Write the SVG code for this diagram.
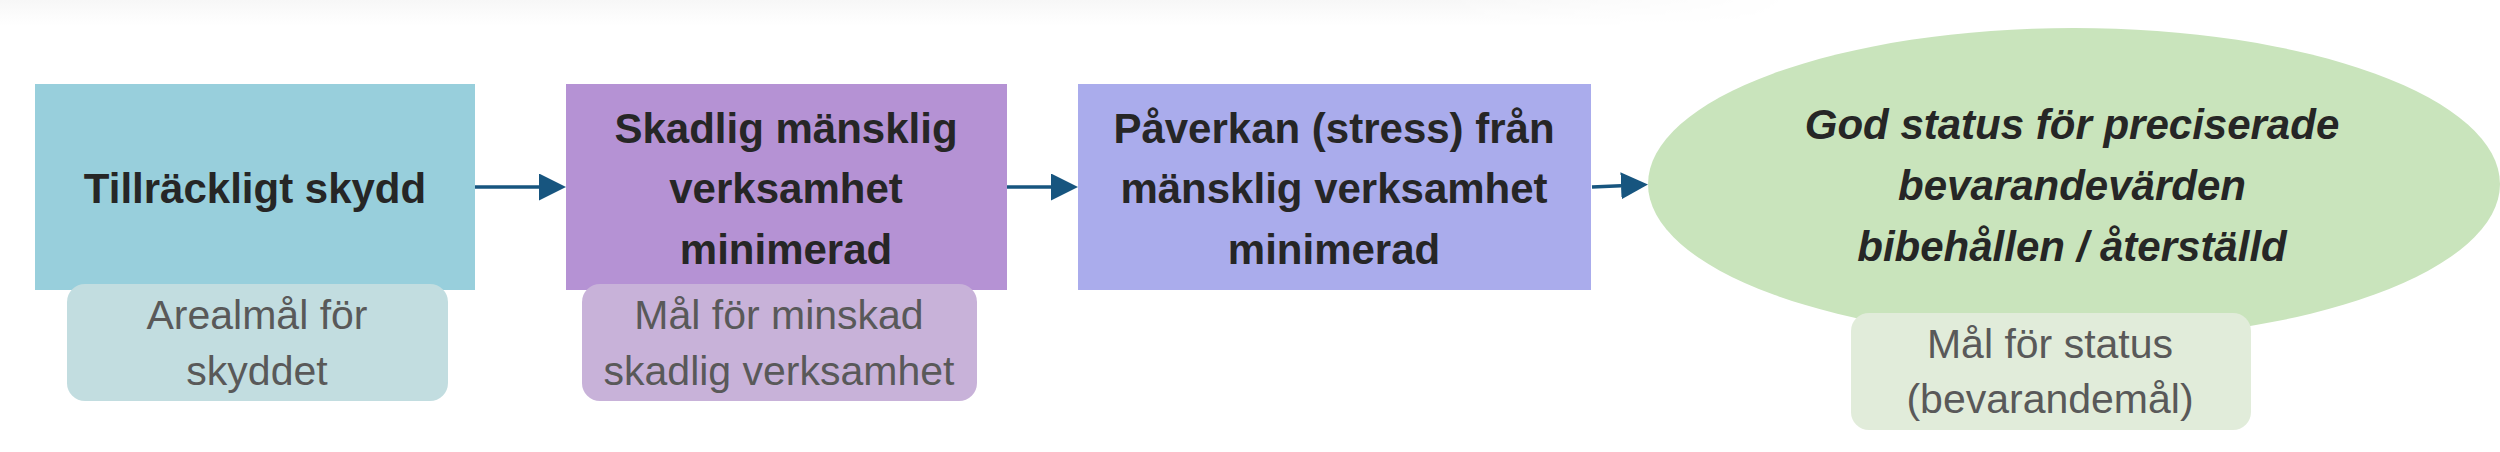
<svg xmlns="http://www.w3.org/2000/svg" width="2500" height="452" viewBox="0 0 2500 452">
  <defs>
    <linearGradient id="topShade" x1="0" y1="0" x2="0" y2="1">
      <stop offset="0" stop-color="#f7f7f7"/>
      <stop offset="1" stop-color="#ffffff"/>
    </linearGradient>
    <linearGradient id="fadeX" x1="0" y1="0" x2="1" y2="0">
      <stop offset="0" stop-color="#ffffff"/>
      <stop offset="0.8" stop-color="#ffffff"/>
      <stop offset="1" stop-color="#000000"/>
    </linearGradient>
    <mask id="bandMask" maskUnits="userSpaceOnUse" x="0" y="0" width="1800" height="30">
      <rect x="0" y="0" width="1800" height="30" fill="url(#fadeX)"/>
    </mask>
    <marker id="arrowHead" markerUnits="userSpaceOnUse" markerWidth="28" markerHeight="28" refX="0" refY="13.5" orient="auto">
      <path d="M0,0 L27,13.5 L0,27 Z" fill="#17557F"/>
    </marker>
    <style>
      .main { font-family: "Liberation Sans", Arial, sans-serif; font-weight: bold; font-size: 42px; fill: #262626; text-anchor: middle; }
      .ital { font-style: italic; }
      .lab { font-family: "Liberation Sans", Arial, sans-serif; font-size: 41px; fill: #595959; text-anchor: middle; }
      .conn { stroke: #17557F; stroke-width: 3.5; fill: none; marker-end: url(#arrowHead); }
    </style>
  </defs>
  <rect x="0" y="0" width="2500" height="452" fill="#ffffff"/>
  <rect x="0" y="0" width="1800" height="26" fill="url(#topShade)" mask="url(#bandMask)"/>

  <g id="node-skydd">
    <rect x="35" y="84" width="440" height="206" fill="#98CFDC"/>
    <text class="main" x="255" y="203">Tillräckligt skydd</text>
  </g>

  <g id="node-skadlig">
    <rect x="566" y="84" width="441" height="206" fill="#B592D4"/>
    <text class="main" x="786" y="143">Skadlig mänsklig</text>
    <text class="main" x="786" y="203">verksamhet</text>
    <text class="main" x="786" y="264">minimerad</text>
  </g>

  <g id="node-paverkan">
    <rect x="1078" y="84" width="513" height="206" fill="#AAACEC"/>
    <text class="main" x="1334" y="143">Påverkan (stress) från</text>
    <text class="main" x="1334" y="203">mänsklig verksamhet</text>
    <text class="main" x="1334" y="264">minimerad</text>
  </g>

  <g id="node-status">
    <ellipse cx="2074" cy="184" rx="426" ry="156" fill="#C9E4BC"/>
    <text class="main ital" x="2072" y="139">God status för preciserade</text>
    <text class="main ital" x="2072" y="200">bevarandevärden</text>
    <text class="main ital" x="2072" y="261">bibehållen / återställd</text>
  </g>

  <g id="label-areal">
    <rect x="67" y="284" width="381" height="117" rx="18" ry="18" fill="#C2DDE0"/>
    <text class="lab" x="257" y="329">Arealmål för</text>
    <text class="lab" x="257" y="385">skyddet</text>
  </g>

  <g id="label-minskad">
    <rect x="582" y="284" width="395" height="117" rx="18" ry="18" fill="#C8B2D9"/>
    <text class="lab" x="779" y="329">Mål för minskad</text>
    <text class="lab" x="779" y="385">skadlig verksamhet</text>
  </g>

  <g id="label-statusmal">
    <rect x="1851" y="313" width="400" height="117" rx="18" ry="18" fill="#E1ECDA"/>
    <text class="lab" x="2050" y="358">Mål för status</text>
    <text class="lab" x="2050" y="413">(bevarandemål)</text>
  </g>

  <g id="connectors">
    <line class="conn" x1="475" y1="187" x2="539" y2="187"/>
    <line class="conn" x1="1007" y1="187" x2="1051" y2="187"/>
    <line class="conn" x1="1592" y1="187" x2="1621" y2="185.7"/>
  </g>
</svg>
